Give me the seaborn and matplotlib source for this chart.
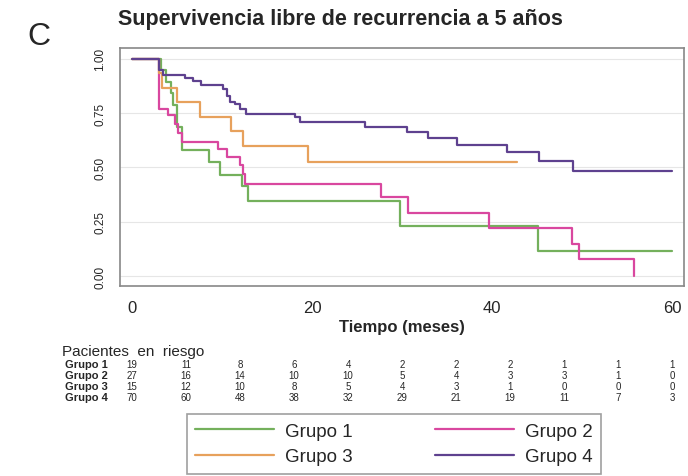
import pandas as pd
import numpy as np
import matplotlib.pyplot as plt
import matplotlib.transforms as mtransforms
import seaborn as sns

# Kaplan-Meier step curves (time in months, survival)
g1_t = [0, 3.2, 3.8, 4.3, 4.6, 5.0, 5.5, 8.6, 9.8, 12.2, 12.9, 29.8, 45.1, 60]
g1_s = [1, 0.947, 0.895, 0.842, 0.789, 0.684, 0.579, 0.526, 0.465, 0.416, 0.347, 0.229, 0.114, 0.114]

g2_t = [0, 3.0, 4.0, 4.8, 5.1, 5.5, 9.6, 10.5, 12.0, 12.3, 12.6, 27.7, 30.7, 39.6, 48.9, 49.6, 55.8]
g2_s = [1, 0.77, 0.74, 0.70, 0.66, 0.616, 0.585, 0.547, 0.51, 0.47, 0.424, 0.362, 0.29, 0.22, 0.147, 0.078, 0.0]

g3_t = [0, 3.0, 3.3, 5.0, 7.6, 11.0, 12.3, 19.6, 42.7]
g3_s = [1, 0.933, 0.867, 0.80, 0.733, 0.667, 0.60, 0.527, 0.527]

g4_t = [0, 3.0, 3.5, 5.9, 6.8, 7.7, 10.1, 10.5, 10.9, 11.4, 12.0, 12.7, 18.1, 18.7,
        25.9, 30.5, 32.9, 36.1, 41.6, 45.2, 49.0, 60]
g4_s = [1, 0.95, 0.926, 0.91, 0.90, 0.88, 0.86, 0.83, 0.80, 0.79, 0.77, 0.747, 0.73, 0.708,
        0.685, 0.662, 0.634, 0.604, 0.573, 0.531, 0.485, 0.485]

groups = ['Grupo 1', 'Grupo 2', 'Grupo 3', 'Grupo 4']
colors = ['#74b05c', '#d9479f', '#e7a15c', '#5e418f']

# numbers at risk every 6 months
risk_times = [0, 6, 12, 18, 24, 30, 36, 42, 48, 54, 60]
risk_g1 = [19, 11, 8, 6, 4, 2, 2, 2, 1, 1, 1]
risk_g2 = [27, 16, 14, 10, 10, 5, 4, 3, 3, 1, 0]
risk_g3 = [15, 12, 10, 8, 5, 4, 3, 1, 0, 0, 0]
risk_g4 = [70, 60, 48, 38, 32, 29, 21, 19, 11, 7, 3]

frames = []
for name, t, s in zip(groups, [g1_t, g2_t, g3_t, g4_t], [g1_s, g2_s, g3_s, g4_s]):
    frames.append(pd.DataFrame({'tiempo': t, 'surv': s, 'grupo': name}))
df = pd.concat(frames, ignore_index=True)

sns.set_style('white')
plt.rcParams['font.family'] = ['Liberation Sans', 'DejaVu Sans']

fig = plt.figure(figsize=(6.88, 4.77), dpi=100)
ax = fig.add_axes([120 / 688, 1 - 287 / 477, 564 / 688, 238 / 477])

sns.lineplot(data=df, x='tiempo', y='surv', hue='grupo', hue_order=groups,
             palette=colors, estimator=None, drawstyle='steps-post',
             linewidth=1.6, ax=ax)

ax.set_xlim(-1.33, 61.3)
ax.set_ylim(-0.046, 1.05)
ax.set_xticks([0, 20, 40, 60])
ax.set_yticks([0, 0.25, 0.5, 0.75, 1.0])
ax.set_yticklabels(['0.00', '0.25', '0.50', '0.75', '1.00'], rotation=90, va='center', fontsize=8.5)
ax.tick_params(axis='x', labelsize=12, length=4, color='#555555', pad=6)
ax.tick_params(axis='y', length=4, color='#555555', pad=6)
ax.yaxis.grid(True, color='#e6e6e6', linewidth=0.8)
for sp in ax.spines.values():
    sp.set_color('#888888')
    sp.set_linewidth(1.2)
ax.set_ylabel('')
ax.set_xlabel('Tiempo (meses)', fontsize=12, fontweight='bold', labelpad=3)

handles, labels = ax.get_legend_handles_labels()
ax.get_legend().remove()
order = [0, 2, 1, 3]
leg = fig.legend([handles[i] for i in order], [labels[i] for i in order], ncol=2,
                 loc='center', bbox_to_anchor=(394 / 688, 1 - 445 / 477),
                 fontsize=13.5, handlelength=4.2, columnspacing=4.4,
                 handletextpad=0.6, labelspacing=0.45, fancybox=False,
                 edgecolor='#888888', borderpad=0.45, borderaxespad=0)
leg.get_frame().set_linewidth(1.2)

fig.text(340 / 688, 1 - 19 / 477, 'Supervivencia libre de recurrencia a 5 años',
         ha='center', va='center', fontsize=15.5, fontweight='bold')
fig.text(27 / 688, 1 - 37 / 477, 'C', ha='left', va='center', fontsize=23)

# risk table
trans = mtransforms.blended_transform_factory(ax.transData, fig.transFigure)
fig.text(62 / 688, 1 - 352 / 477, 'Pacientes  en  riesgo', ha='left', va='center', fontsize=11)
row_y = [365, 376, 387, 398]
for name, vals, yy in zip(groups, [risk_g1, risk_g2, risk_g3, risk_g4], row_y):
    fig.text(65 / 688, 1 - yy / 477, name, ha='left', va='center', fontsize=8, fontweight='bold')
    for t, v in zip(risk_times, vals):
        fig.text(t, 1 - yy / 477, str(v), transform=trans, ha='center', va='center', fontsize=7)

fig.savefig('out.png', dpi=100)
